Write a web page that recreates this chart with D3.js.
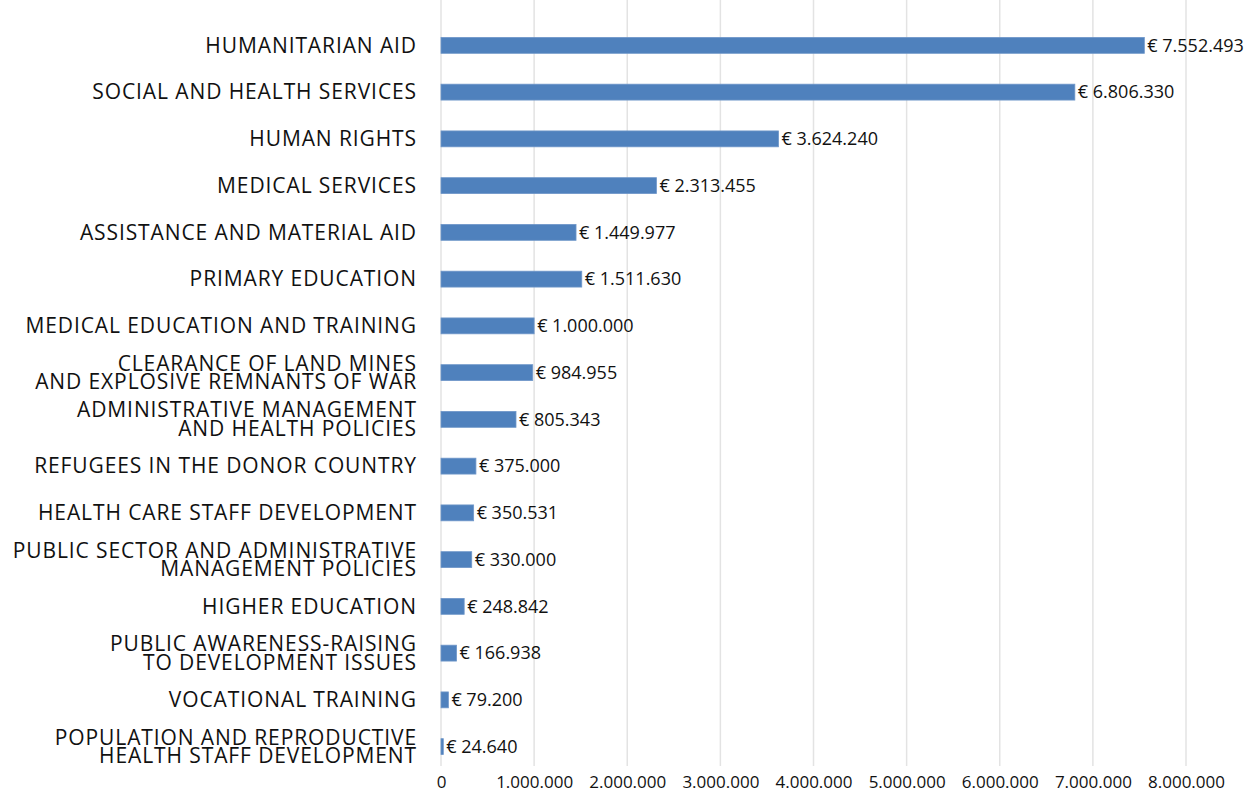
<!DOCTYPE html>
<meta charset="utf-8">
<style>
body { margin: 0; background: #fff; }
.grid line { stroke: #e3e3e3; stroke-width: 1.5; }
.cat { font-family: "Open Sans", sans-serif; font-size: 21px; letter-spacing: 0.9px; fill: #111; }
.val { font-family: "Open Sans", sans-serif; font-size: 18px; fill: #111; }
.tick text { font-family: "Open Sans", sans-serif; font-size: 17px; fill: #111; }
</style>
<body>
<script src="https://cdnjs.cloudflare.com/ajax/libs/d3/7.8.5/d3.min.js"></script>
<script>

// data
var categories = [
  ["HUMANITARIAN AID"],
  ["SOCIAL AND HEALTH SERVICES"],
  ["HUMAN RIGHTS"],
  ["MEDICAL SERVICES"],
  ["ASSISTANCE AND MATERIAL AID"],
  ["PRIMARY EDUCATION"],
  ["MEDICAL EDUCATION AND TRAINING"],
  ["CLEARANCE OF LAND MINES", "AND EXPLOSIVE REMNANTS OF WAR"],
  ["ADMINISTRATIVE MANAGEMENT", "AND HEALTH POLICIES"],
  ["REFUGEES IN THE DONOR COUNTRY"],
  ["HEALTH CARE STAFF DEVELOPMENT"],
  ["PUBLIC SECTOR AND ADMINISTRATIVE", "MANAGEMENT POLICIES"],
  ["HIGHER EDUCATION"],
  ["PUBLIC AWARENESS-RAISING", "TO DEVELOPMENT ISSUES"],
  ["VOCATIONAL TRAINING"],
  ["POPULATION AND REPRODUCTIVE", "HEALTH STAFF DEVELOPMENT"]
];
var values = [7552493, 6806330, 3624240, 2313455, 1449977, 1511630, 1000000, 984955,
              805343, 375000, 350531, 330000, 248842, 166938, 79200, 24640];
var ticks = [0, 1000000, 2000000, 3000000, 4000000, 5000000, 6000000, 7000000, 8000000];

var width = 1245, height = 794;
var plotL = 441, plotR = 1186, plotT = 22, plotB = 770;

var svg = d3.select("body").append("svg")
    .attr("width", width)
    .attr("height", height);

var fmt = function(v) {
  return String(v).replace(/\B(?=(\d{3})+(?!\d))/g, ".");
};

var x = d3.scaleLinear().domain([0, 8000000]).range([plotL, plotR]);
var y = d3.scaleBand().domain(d3.range(values.length)).range([plotT, plotB]).paddingInner(0.66).paddingOuter(0.33);

// gridlines
svg.append("g").attr("class", "grid")
  .selectAll("line")
  .data(ticks)
  .enter().append("line")
    .attr("x1", function(d) { return x(d); })
    .attr("x2", function(d) { return x(d); })
    .attr("y1", 0)
    .attr("y2", 766);

// x axis labels
var xAxis = d3.axisBottom(x).tickValues(ticks).tickSize(0).tickPadding(0).tickFormat(fmt);
svg.append("g")
    .attr("transform", "translate(0,766)")
    .call(xAxis)
    .call(function(g) { g.select(".domain").remove(); })
    .selectAll("text").attr("y", 10);

// bars
svg.selectAll(".bar")
  .data(values)
  .enter().append("rect")
    .attr("class", "bar")
    .attr("x", x(0))
    .attr("y", function(d, i) { return y(i); })
    .attr("width", function(d) { return x(d) - x(0); })
    .attr("height", y.bandwidth())
    .attr("fill", "#4f81bd")
    .attr("stroke", "#6f97c9")
    .attr("stroke-width", 0.8);

// value labels
svg.selectAll(".val")
  .data(values)
  .enter().append("text")
    .attr("class", "val")
    .attr("x", function(d) { return x(d) + 3; })
    .attr("y", function(d, i) { return y(i) + y.bandwidth() / 2; })
    .attr("dy", "0.35em")
    .text(function(d) { return "€ " + fmt(d); });

// category labels
var cat = svg.selectAll(".cat")
  .data(categories)
  .enter().append("text")
    .attr("class", "cat")
    .attr("text-anchor", "end")
    .attr("x", 417)
    .attr("y", function(d, i) { return y(i) + y.bandwidth() / 2; });

cat.selectAll("tspan")
  .data(function(d) { return d.map(function(t, j) { return {t: t, j: j, n: d.length}; }); })
  .enter().append("tspan")
    .attr("x", 417)
    .attr("dy", function(d) {
      if (d.j > 0) return "0.9em";
      return (0.35 - (d.n - 1) * 0.45) + "em";
    })
    .text(function(d) { return d.t; });

</script>
